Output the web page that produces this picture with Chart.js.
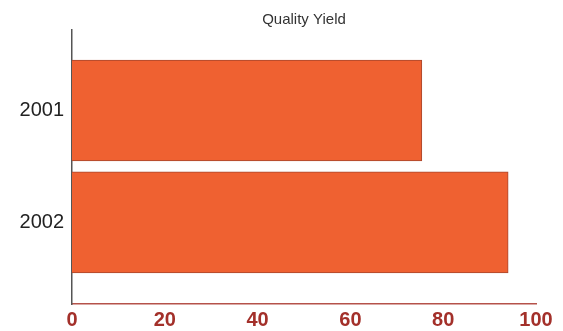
<!DOCTYPE html>
<html>
<head>
<meta charset="utf-8">
<title>Quality Yield</title>
<script src="https://cdn.jsdelivr.net/npm/chart.js@4/dist/chart.umd.min.js"></script>
<style>
  html, body { margin: 0; padding: 0; background: #fff; }
  #wrap { width: 563px; height: 331px; }
</style>
</head>
<body>
<div id="wrap"><canvas id="grafico"></canvas></div>
<script>
// ---------- Dados ----------
const anos = ['2001', '2002'];
const rendimento = [75.4, 94.0];
const xTicks = [0, 20, 40, 60, 80, 100];

const FONT = 'Arial, "Liberation Sans", sans-serif';

// posição de cada categoria no eixo (1, 2, ...)
const pontos = rendimento.map((v, i) => ({ x: v, y: i + 1 }));

const config = {
  type: 'bar',
  data: {
    datasets: [{
      label: 'Quality Yield',
      data: pontos,
      backgroundColor: '#ef6131',
      borderColor: '#a9472d',
      borderWidth: 1,
      barThickness: 101
    }]
  },
  options: {
    indexAxis: 'y',
    responsive: true,
    maintainAspectRatio: false,
    animation: false,
    layout: { padding: { left: 0, right: 27, top: 0, bottom: 0 } },
    plugins: {
      legend: { display: false },
      tooltip: { enabled: false },
      title: {
        display: true,
        fullSize: false,
        text: 'Quality Yield',
        color: '#333',
        font: { family: FONT, size: 15, weight: 'normal' },
        padding: { top: 11, bottom: 1 }
      }
    },
    scales: {
      x: {
        type: 'linear',
        min: 0,
        max: 100,
        afterBuildTicks: (s) => { s.ticks = xTicks.map(v => ({ value: v })); },
        afterFit: (s) => { s.height = 27; },
        grid: { display: false, drawTicks: false },
        border: { color: '#b5524a', width: 1.5 },
        ticks: {
          color: '#a3302a',
          padding: 4,
          font: { family: FONT, size: 20, weight: 'bold' }
        }
      },
      y: {
        type: 'linear',
        reverse: true,
        offset: false,
        min: 0.28,
        max: 2.73,
        afterBuildTicks: (s) => { s.ticks = anos.map((a, i) => ({ value: i + 1 })); },
        afterFit: (s) => { s.width = 72; },
        grid: { display: false, drawTicks: false, offset: false },
        border: { color: '#555', width: 1.5 },
        ticks: {
          color: '#222',
          padding: 8,
          font: { family: FONT, size: 20 },
          callback: (v) => anos[Math.round(v) - 1] || ''
        }
      }
    }
  }
};

new Chart(document.getElementById('grafico'), config);
</script>
</body>
</html>
